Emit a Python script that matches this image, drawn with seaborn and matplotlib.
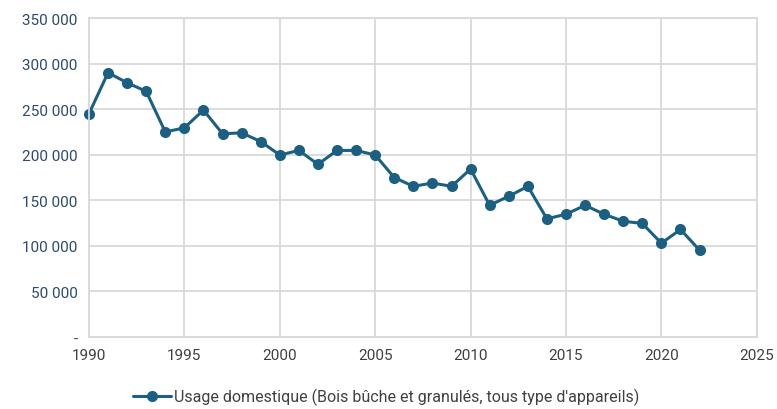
import pandas as pd
import matplotlib.pyplot as plt
import matplotlib.ticker as mticker
import seaborn as sns

# Data
years = list(range(1990, 2023))
values = [245000, 290000, 279000, 269500, 225000, 229500, 249000, 223000, 224000, 214500,
          199700, 204700, 189500, 204700, 204700, 199700, 175000, 165300, 169000, 165300,
          184300, 144500, 154500, 165300, 129700, 134700, 144500, 134700, 127000, 124600,
          102900, 118000, 95300]
series_label = "Usage domestique (Bois bûche et granulés, tous type d'appareils)"

df = pd.DataFrame({"Année": years, "Valeur": values, "Série": series_label})

sns.set_style("white")
plt.rcParams['font.family'] = ['Roboto', 'DejaVu Sans']

line_color = "#1b6082"
grid_color = "#d9d9d9"

fig = plt.figure(figsize=(7.77, 4.10), dpi=100)
ax = fig.add_axes([0.1145, 0.1756, 0.8595, 0.778])

sns.lineplot(data=df, x="Année", y="Valeur", hue="Série", palette=[line_color],
             marker="o", markersize=8, markeredgewidth=0, linewidth=2.2, ax=ax)
for ln in ax.lines:
    ln.set_clip_on(False)

ax.set_xlim(1990, 2025)
ax.set_ylim(0, 350000)
ax.xaxis.set_major_locator(mticker.MultipleLocator(5))
ax.yaxis.set_major_locator(mticker.MultipleLocator(50000))


def fmt(v, pos):
    if v == 0:
        return "-"
    return f"{int(v):,}".replace(",", " ")


ax.yaxis.set_major_formatter(mticker.FuncFormatter(fmt))
ax.grid(True, color=grid_color, linewidth=1.3)
for side in ["top", "right", "left", "bottom"]:
    ax.spines[side].set_color(grid_color)
    ax.spines[side].set_linewidth(1.3)
ax.tick_params(axis="both", length=0, labelsize=11)
ax.tick_params(axis="y", colors="#2c4a6e", pad=8)
ax.tick_params(axis="x", colors="#404040", pad=8)
ax.set_xlabel("")
ax.set_ylabel("")

ax.legend(loc="upper center", bbox_to_anchor=(0.445, -0.115), frameon=False,
          fontsize=11.5, handlelength=2.4, handletextpad=0.2, labelcolor="#404040")

fig.savefig("out.png", dpi=100)
